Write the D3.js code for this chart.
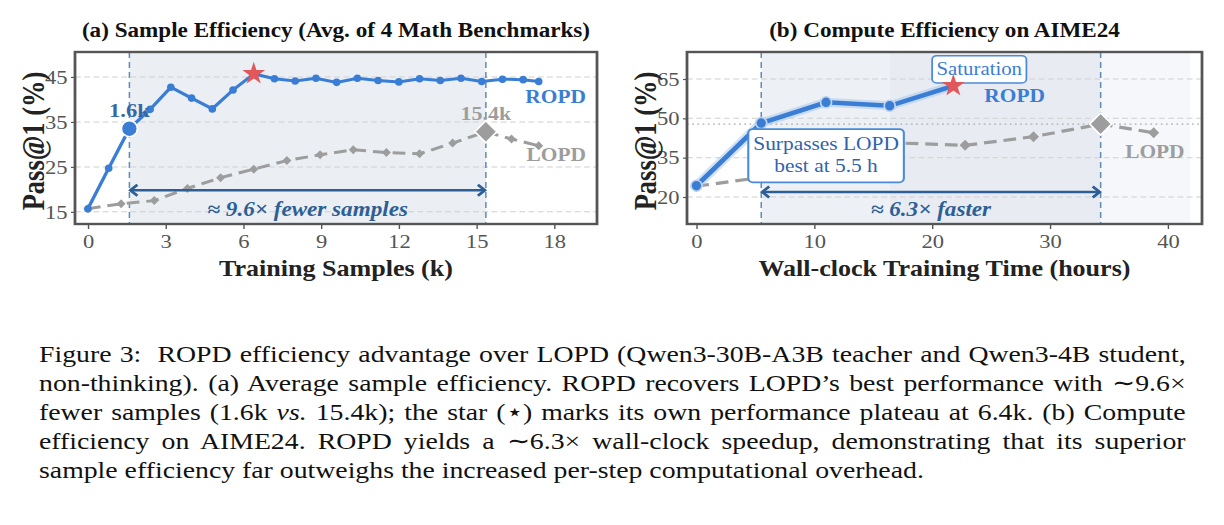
<!DOCTYPE html>
<html><head><meta charset="utf-8">
<script src="https://cdn.jsdelivr.net/npm/d3@7"></script>
<style>
html,body{margin:0;padding:0;background:#fff;}
#wrap{position:relative;width:1224px;height:525px;overflow:hidden;}
svg{position:absolute;left:0;top:0;}
.cap{position:absolute;left:39px;top:340px;width:991px;transform:scaleX(1.157);transform-origin:0 0;font-family:"Liberation Serif","Times New Roman",serif;font-size:24px;line-height:29px;color:#111;}
.cap div{text-align:justify;text-align-last:justify;white-space:nowrap;}
.cap div.last{text-align-last:left;}
</style></head>
<body><div id="wrap"></div>
<script>
// ---------- data ----------
const ropdA_x = [0, 0.8, 1.6, 2.4, 3.2, 4.0, 4.8, 5.6, 6.4, 7.2, 8.0, 8.8, 9.6, 10.4, 11.2, 12.0, 12.8, 13.6, 14.4, 15.2, 16.0, 16.8, 17.4];
const ropdA_y = [15.7, 24.7, 33.5, 37.8, 42.7, 40.3, 37.9, 42.1, 45.7, 44.6, 44.1, 44.7, 43.8, 44.7, 44.2, 43.9, 44.6, 44.2, 44.7, 44.0, 44.5, 44.4, 44.0];
const lopdA_x = [0, 1.28, 2.56, 3.84, 5.12, 6.4, 7.68, 8.96, 10.24, 11.52, 12.8, 14.08, 15.36, 16.35, 17.4];
const lopdA_y = [15.7, 16.8, 17.5, 20.2, 22.6, 24.5, 26.4, 27.7, 28.8, 28.2, 27.9, 30.3, 32.8, 31.2, 29.7];
const ropdB_x = [0, 5.5, 11.0, 16.4, 21.8];
const ropdB_y = [24.3, 48.2, 56.1, 54.8, 62.4];
const lopdB_x = [0, 5.7, 11.4, 17.1, 22.8, 28.6, 34.3, 38.8];
const lopdB_y = [24.1, 27.6, 36.5, 40.6, 39.7, 43.0, 47.8, 44.5];
const ticksAx = [0, 3, 6, 9, 12, 15, 18];
const ticksAy = [15, 25, 35, 45];
const ticksBx = [0, 10, 20, 30, 40];
const ticksBy = [20, 35, 50, 65];
const markA = {ropdX: 1.6, ropdY: 33.5, starX: 6.4, starY: 45.7, lopdX: 15.36, lopdY: 32.8};
const markB = {ropdX: 5.5, ropdY: 48.2, starX: 21.8, starY: 62.4, lopdX: 34.3, lopdY: 47.8};
const titles = ["(a) Sample Efficiency (Avg. of 4 Math Benchmarks)", "(b) Compute Efficiency on AIME24"];
const xLabels = ["Training Samples (k)", "Wall-clock Training Time (hours)"];
const captionLines = [
  "Figure 3:&nbsp; ROPD efficiency advantage over LOPD (Qwen3-30B-A3B teacher and Qwen3-4B student,",
  "non-thinking). (a) Average sample efficiency. ROPD recovers LOPD’s best performance with ∼9.6×",
  "fewer samples (1.6k <i>vs.</i> 15.4k); the star (⋆) marks its own performance plateau at 6.4k. (b) Compute",
  "efficiency on AIME24. ROPD yields a ∼6.3× wall-clock speedup, demonstrating that its superior",
  "sample efficiency far outweighs the increased per-step computational overhead."
];

// ---------- style ----------
const SX = 1.157;               // horizontal stretch of the original figure
const vx = p => p / SX;          // page pixel -> drawing coordinate
const BLUE = "#3a7dd4", DBLUE = "#2d5f95", GRAY = "#9d9d9d", FRAME = "#555", SHADE = "#ebeff4";
const SERIF = "'Liberation Serif','Times New Roman',serif";

const svg0 = d3.select("#wrap").append("svg").attr("width", 1224).attr("height", 335)
  .style("font-family", SERIF);
const svg = svg0.append("g").attr("transform", `scale(${SX},1)`);

function diamond(g, x, y, half, fill, stroke) {
  const hx = half / SX;
  g.append("path").attr("d", `M${x},${y-half}L${x+hx},${y}L${x},${y+half}L${x-hx},${y}Z`)
    .attr("fill", fill).attr("stroke", stroke || "none").attr("stroke-width", stroke ? 1.5 : 0);
}
function star(g, x, y, R) {
  g.append("path").attr("d", d3.symbol(d3.symbolStar, R * R / 0.8908130915292852)())
    .attr("transform", `translate(${x},${y}) scale(${1/SX},1)`).attr("fill", "#e0585a");
}
function dot(g, x, y, r, fill, stroke, sw) {
  g.append("ellipse").attr("cx", x).attr("cy", y).attr("rx", r / SX).attr("ry", r)
    .attr("fill", fill).attr("stroke", stroke || "none").attr("stroke-width", sw || 0);
}
function arrow(g, x1, x2, y) {
  const h = 8 / SX;
  g.append("line").attr("x1", x1 + 1).attr("x2", x2 - 1).attr("y1", y).attr("y2", y)
    .attr("stroke", DBLUE).attr("stroke-width", 2.5);
  g.append("path").attr("d", `M${x1+h},${y-5.5}L${x1+0.8},${y}L${x1+h},${y+5.5}`).attr("fill", "none")
    .attr("stroke", DBLUE).attr("stroke-width", 2.5);
  g.append("path").attr("d", `M${x2-h},${y-5.5}L${x2-0.8},${y}L${x2-h},${y+5.5}`).attr("fill", "none")
    .attr("stroke", DBLUE).attr("stroke-width", 2.5);
}

function panel(cfg) {
  const {x, y, xt, yt, L, R, T, B, title, xlab} = cfg;
  const g = svg.append("g");
  g.append("text").attr("x", (L + R) / 2).attr("y", 37).attr("text-anchor", "middle")
    .attr("font-weight", "bold").attr("font-size", 20).attr("fill", "#111").text(title);
  cfg.shades.forEach(s => g.append("rect").attr("x", x(s[0])).attr("width", x(s[1]) - x(s[0]))
    .attr("y", T).attr("height", B - T).attr("fill", s[2]));
  g.selectAll(".gy").data(yt).join("line").attr("x1", L).attr("x2", R)
    .attr("y1", d => y(d)).attr("y2", d => y(d)).attr("stroke", "#cfcfcf")
    .attr("stroke-width", 1).attr("stroke-dasharray", "5,3");
  const ax = g.append("g").attr("transform", `translate(0,${B})`)
    .call(d3.axisBottom(x).tickValues(xt).tickSize(5).tickPadding(5).tickFormat(d3.format("d")));
  const ay = g.append("g").attr("transform", `translate(${L},0)`)
    .call(d3.axisLeft(y).tickValues(yt).tickSize(4 / SX).tickPadding(3).tickFormat(d3.format("d")));
  [ax, ay].forEach(a => {
    a.select(".domain").remove();
    a.selectAll("line").attr("stroke", FRAME).attr("stroke-width", 1.2);
    a.selectAll("text").attr("font-family", SERIF).attr("font-size", 19.5).attr("fill", "#555");
  });
  g.append("text").attr("x", (L + R) / 2).attr("y", 276).attr("text-anchor", "middle")
    .attr("font-weight", "bold").attr("font-size", 22.5).attr("fill", "#222").text(xlab);
  g.append("text").attr("transform", `translate(${vx(cfg.ylabX)},${(T + B) / 2 + 3}) rotate(-90)`)
    .attr("text-anchor", "middle").attr("font-weight", "bold").attr("font-size", 26.5)
    .attr("fill", "#222").text("Pass@1 (%)");
  return g;
}

// ================= Panel A =================
const xA = d3.scaleLinear([-0.5, 19.65], [vx(75), vx(597)]);
const yA = d3.scaleLinear([12.3, 50.55], [224, 52]);
const gA = panel({x: xA, y: yA, xt: ticksAx, yt: ticksAy, L: vx(75), R: vx(597), T: 52, B: 224, ylabX: 44,
  title: titles[0], xlab: xLabels[0], shades: [[markA.ropdX, markA.lopdX, SHADE]]});
[markA.ropdX, markA.lopdX].forEach(v => gA.append("line").attr("x1", xA(v)).attr("x2", xA(v))
  .attr("y1", 52).attr("y2", 224).attr("stroke", "#5f8bbb").attr("stroke-width", 1.3).attr("stroke-dasharray", "6,4"));
const lineA = d3.line().x(d => xA(d[0])).y(d => yA(d[1]));
const lA = lopdA_x.map((v, i) => [v, lopdA_y[i]]);
const rA = ropdA_x.map((v, i) => [v, ropdA_y[i]]);
gA.append("path").attr("d", lineA(lA)).attr("fill", "none").attr("stroke", GRAY)
  .attr("stroke-width", 3).attr("stroke-dasharray", "11,6");
lA.forEach(d => { if (d[0] !== markA.lopdX) diamond(gA, xA(d[0]), yA(d[1]), 4.5, GRAY); });
gA.append("path").attr("d", lineA(rA)).attr("fill", "none").attr("stroke", BLUE).attr("stroke-width", 3);
rA.filter(d => d[0] !== markA.ropdX && d[0] !== markA.starX).forEach(d => dot(gA, xA(d[0]), yA(d[1]), 3.8, BLUE));
dot(gA, xA(markA.ropdX), yA(markA.ropdY), 8, BLUE, "#fff", 1.5);
diamond(gA, xA(markA.lopdX), yA(markA.lopdY), 11, GRAY, "#fff");
star(gA, xA(markA.starX), yA(markA.starY), 12);
gA.append("text").attr("x", xA(markA.ropdX)).attr("y", 117).attr("text-anchor", "middle")
  .attr("font-weight", "bold").attr("font-size", 19.5).attr("fill", "#3567a6").text("1.6k");
gA.append("text").attr("x", xA(markA.lopdX)).attr("y", 120).attr("text-anchor", "middle")
  .attr("font-weight", "bold").attr("font-size", 19).attr("fill", GRAY).text("15.4k");
gA.append("text").attr("x", vx(586)).attr("y", 103).attr("text-anchor", "end")
  .attr("font-weight", "bold").attr("font-size", 18.5).attr("fill", BLUE).text("ROPD");
gA.append("text").attr("x", vx(586)).attr("y", 161).attr("text-anchor", "end")
  .attr("font-weight", "bold").attr("font-size", 18.5).attr("fill", GRAY).text("LOPD");
arrow(gA, xA(markA.ropdX), xA(markA.lopdX), yA(19.8));
gA.append("text").attr("x", (xA(markA.ropdX) + xA(markA.lopdX)) / 2).attr("y", 216)
  .attr("text-anchor", "middle").attr("font-weight", "bold").attr("font-style", "italic")
  .attr("font-size", 20).attr("fill", DBLUE).text("≈ 9.6× fewer samples");
gA.append("rect").attr("x", vx(75)).attr("y", 52).attr("width", vx(522)).attr("height", 172)
  .attr("fill", "none").attr("stroke", FRAME).attr("stroke-width", 2.4);

// ================= Panel B =================
const xB = d3.scaleLinear([-0.8, 42.9], [vx(687), vx(1202)]);
const yB = d3.scaleLinear([9.7, 75.3], [224, 52]);
const gB = panel({x: xB, y: yB, xt: ticksBx, yt: ticksBy, L: vx(687), R: vx(1202), T: 52, B: 224, ylabX: 656,
  title: titles[1], xlab: xLabels[1],
  shades: [[markB.ropdX, 16.4, "#edf0f5"], [16.4, markB.lopdX, "#e8ecf2"], [markB.lopdX, 41.9, "#f5f7fa"]]});
gB.append("line").attr("x1", vx(687)).attr("x2", vx(1202)).attr("y1", yB(markB.lopdY)).attr("y2", yB(markB.lopdY))
  .attr("stroke", "#aaa").attr("stroke-width", 1.3).attr("stroke-dasharray", "1.5,3");
[markB.ropdX, markB.lopdX].forEach(v => gB.append("line").attr("x1", xB(v)).attr("x2", xB(v))
  .attr("y1", 52).attr("y2", 224).attr("stroke", "#5f8bbb").attr("stroke-width", 1.3).attr("stroke-dasharray", "6,4"));
const lineB = d3.line().x(d => xB(d[0])).y(d => yB(d[1]));
const lB = lopdB_x.map((v, i) => [v, lopdB_y[i]]);
const rB = ropdB_x.map((v, i) => [v, ropdB_y[i]]);
gB.append("path").attr("d", lineB(lB)).attr("fill", "none").attr("stroke", GRAY)
  .attr("stroke-width", 3.2).attr("stroke-dasharray", "11,6");
lB.forEach(d => { if (d[0] !== markB.lopdX) diamond(gB, xB(d[0]), yB(d[1]), 5.5, GRAY); });
gB.append("path").attr("d", lineB(rB)).attr("fill", "none").attr("stroke", "#9cc0ec")
  .attr("stroke-width", 9).attr("stroke-opacity", 0.45);
gB.append("path").attr("d", lineB(rB)).attr("fill", "none").attr("stroke", BLUE).attr("stroke-width", 4.5);
rB.filter(d => d[0] !== markB.starX).forEach(d => dot(gB, xB(d[0]), yB(d[1]), 5.5, BLUE, "#bcd4f2", 1.5));
diamond(gB, xB(markB.lopdX), yB(markB.lopdY), 11, GRAY, "#fff");
gB.append("text").attr("x", xB(27.0)).attr("y", 102).attr("text-anchor", "middle")
  .attr("font-weight", "bold").attr("font-size", 18.5).attr("fill", BLUE).text("ROPD");
gB.append("text").attr("x", xB(38.9)).attr("y", 158).attr("text-anchor", "middle")
  .attr("font-weight", "bold").attr("font-size", 18.5).attr("fill", GRAY).text("LOPD");
// annotation boxes
gB.append("rect").attr("x", xB(4.4)).attr("y", yB(45.9)).attr("width", xB(17.6) - xB(4.4))
  .attr("height", yB(25.6) - yB(45.9)).attr("rx", 4).attr("fill", "#fff")
  .attr("stroke", "#4a8ad8").attr("stroke-width", 1.8);
gB.append("text").attr("x", xB(11.0)).attr("y", 150).attr("text-anchor", "middle")
  .attr("font-size", 18.5).attr("fill", "#2f63ad").text("Surpasses LOPD");
gB.append("text").attr("x", xB(11.0)).attr("y", 172).attr("text-anchor", "middle")
  .attr("font-size", 18.5).attr("fill", "#2f63ad").text("best at 5.5 h");
gB.append("rect").attr("x", xB(20.0)).attr("y", yB(73.9)).attr("width", xB(28.0) - xB(20.0))
  .attr("height", yB(63.5) - yB(73.9)).attr("rx", 4).attr("fill", "#fff")
  .attr("stroke", "#4a8ad8").attr("stroke-width", 1.5);
gB.append("text").attr("x", xB(24.0)).attr("y", 75.5).attr("text-anchor", "middle")
  .attr("font-size", 18).attr("fill", "#3a7dd4").text("Saturation");
star(gB, xB(markB.starX), yB(markB.starY), 12);
arrow(gB, xB(markB.ropdX), xB(markB.lopdX), yB(21.9));
gB.append("text").attr("x", (xB(markB.ropdX) + xB(markB.lopdX)) / 2).attr("y", 216)
  .attr("text-anchor", "middle").attr("font-weight", "bold").attr("font-style", "italic")
  .attr("font-size", 20).attr("fill", DBLUE).text("≈ 6.3× faster");
gB.append("rect").attr("x", vx(687)).attr("y", 52).attr("width", vx(515)).attr("height", 172)
  .attr("fill", "none").attr("stroke", FRAME).attr("stroke-width", 2.4);

// ---------- caption ----------
const cap = d3.select("#wrap").append("div").attr("class", "cap");
captionLines.forEach((t, i) => cap.append("div").attr("class", i === captionLines.length - 1 ? "last" : null).html(t));
</script></body></html>
